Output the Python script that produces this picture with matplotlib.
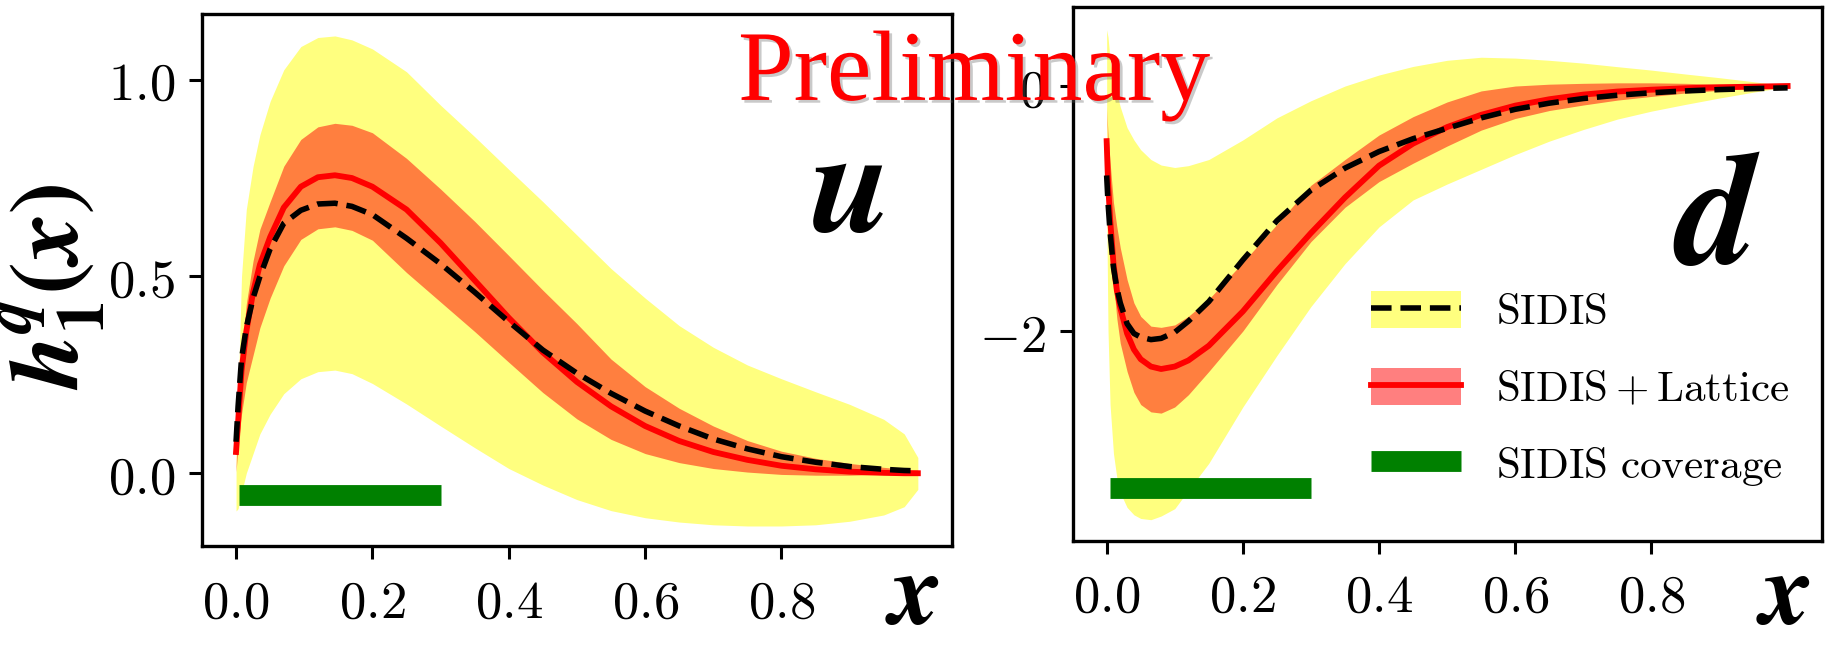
import matplotlib
matplotlib.use("Agg")
import matplotlib.pyplot as plt
import matplotlib.patheffects as pe
from matplotlib.patches import Patch
from matplotlib.lines import Line2D

plt.rcParams["mathtext.fontset"] = "cm"

# ---------------------------------------------------------------------------
#  u quark transversity (left panel)
# ---------------------------------------------------------------------------
x_u = [0.0, 0.003, 0.008, 0.015, 0.025, 0.035, 0.05, 0.07, 0.095, 0.12,
       0.145, 0.17, 0.2, 0.25, 0.3, 0.35, 0.4, 0.45, 0.5, 0.55,
       0.6, 0.65, 0.7, 0.75, 0.8, 0.85, 0.9, 0.95, 0.98, 1.0]

u_sidis_hi = [0.05, 0.2, 0.5, 0.67, 0.78, 0.86, 0.945, 1.025, 1.084, 1.107,
              1.111, 1.101, 1.078, 1.02, 0.935, 0.855, 0.772, 0.69, 0.605, 0.52,
              0.445, 0.375, 0.32, 0.275, 0.24, 0.207, 0.175, 0.137, 0.10, 0.04]
u_sidis_lo = [-0.096, -0.09, -0.05, 0.0, 0.05, 0.10, 0.15, 0.202, 0.24, 0.258,
              0.262, 0.253, 0.228, 0.176, 0.12, 0.065, 0.012, -0.03, -0.067, -0.095,
              -0.113, -0.124, -0.131, -0.134, -0.134, -0.131, -0.122, -0.106, -0.085, -0.041]
u_sidis = [0.08, 0.17, 0.29, 0.37, 0.445, 0.50, 0.57, 0.635, 0.668, 0.684,
           0.686, 0.678, 0.657, 0.597, 0.532, 0.46, 0.385, 0.313, 0.254, 0.203,
           0.158, 0.12, 0.087, 0.062, 0.042, 0.028, 0.017, 0.01, 0.007, 0.006]

u_latt_hi = [0.01, 0.17, 0.30, 0.43, 0.54, 0.62, 0.69, 0.78, 0.848, 0.880,
             0.889, 0.884, 0.865, 0.80, 0.722, 0.64, 0.553, 0.465, 0.38, 0.29,
             0.22, 0.165, 0.12, 0.083, 0.056, 0.038, 0.025, 0.015, 0.01, 0.008]
u_latt_lo = [0.004, 0.07, 0.15, 0.23, 0.30, 0.37, 0.445, 0.527, 0.594, 0.621,
             0.626, 0.617, 0.592, 0.51, 0.435, 0.36, 0.282, 0.205, 0.138, 0.086,
             0.05, 0.027, 0.012, 0.003, -0.003, -0.005, -0.005, -0.003, -0.001, 0.0]
u_latt = [0.054, 0.13, 0.26, 0.36, 0.46, 0.53, 0.60, 0.675, 0.728, 0.752,
          0.757, 0.75, 0.728, 0.67, 0.585, 0.49, 0.395, 0.307, 0.232, 0.17,
          0.12, 0.082, 0.054, 0.034, 0.019, 0.01, 0.004, 0.001, 0.0, 0.0]

# ---------------------------------------------------------------------------
#  d quark transversity (right panel)
# ---------------------------------------------------------------------------
x_d = [0.0, 0.002, 0.005, 0.01, 0.015, 0.02, 0.03, 0.04, 0.05, 0.065,
       0.08, 0.1, 0.12, 0.15, 0.2, 0.25, 0.3, 0.35, 0.4, 0.45,
       0.5, 0.55, 0.6, 0.65, 0.7, 0.75, 0.8, 0.85, 0.9, 0.95, 1.0]

d_sidis_hi = [0.46, 0.40, 0.22, 0.05, -0.06, -0.17, -0.34, -0.44, -0.52, -0.60,
              -0.645, -0.665, -0.65, -0.60, -0.44, -0.26, -0.12, 0.0, 0.09, 0.16,
              0.21, 0.235, 0.228, 0.21, 0.187, 0.158, 0.13, 0.098, 0.068, 0.035, 0.0]
d_sidis_lo = [-1.0, -2.0, -2.6, -3.0, -3.2, -3.32, -3.44, -3.5, -3.53, -3.54,
              -3.51, -3.45, -3.3, -3.08, -2.62, -2.2, -1.8, -1.45, -1.15, -0.93,
              -0.80, -0.68, -0.56, -0.45, -0.355, -0.27, -0.205, -0.15, -0.098, -0.05, -0.005]
d_sidis = [-0.73, -0.95, -1.19, -1.48, -1.65, -1.77, -1.94, -2.02, -2.05, -2.07,
           -2.06, -2.01, -1.92, -1.76, -1.42, -1.10, -0.85, -0.67, -0.535, -0.43,
           -0.345, -0.26, -0.19, -0.14, -0.102, -0.075, -0.055, -0.04, -0.029, -0.021, -0.015]

d_latt_hi = [-0.17, -0.40, -0.62, -0.95, -1.15, -1.32, -1.58, -1.77, -1.88, -1.96,
             -1.97, -1.95, -1.88, -1.74, -1.44, -1.13, -0.81, -0.60, -0.40, -0.25,
             -0.13, -0.04, 0.0, 0.015, 0.022, 0.026, 0.026, 0.022, 0.015, 0.008, 0.0]
d_latt_lo = [-0.17, -0.6, -1.15, -1.6, -1.9, -2.1, -2.33, -2.5, -2.6, -2.66,
             -2.67, -2.62, -2.52, -2.33, -2.0, -1.62, -1.27, -0.99, -0.78, -0.63,
             -0.49, -0.36, -0.265, -0.2, -0.155, -0.115, -0.085, -0.057, -0.035, -0.018, -0.005]
d_latt = [-0.45, -0.78, -1.08, -1.45, -1.67, -1.81, -2.02, -2.15, -2.23, -2.29,
          -2.31, -2.29, -2.24, -2.12, -1.84, -1.51, -1.20, -0.91, -0.65, -0.47,
          -0.335, -0.235, -0.16, -0.108, -0.07, -0.045, -0.03, -0.018, -0.01, -0.005, 0.0]

# SIDIS kinematic coverage in x, and the height the bar is drawn at
coverage_x = [0.005, 0.3]
coverage_y_u = -0.056
coverage_y_d = -3.28

x_ticks = [0.0, 0.2, 0.4, 0.6, 0.8]
x_ticklabels = ["$0.0$", "$0.2$", "$0.4$", "$0.6$", "$0.8$"]
u_yticks = [0.0, 0.5, 1.0]
u_yticklabels = ["$0.0$", "$0.5$", "$1.0$"]
d_yticks = [-2, 0]
d_yticklabels = ["$-2$", "$0$"]

legend_labels = [r"$\mathrm{SIDIS}$",
                 r"$\mathrm{SIDIS} + \mathrm{Lattice}$",
                 r"$\mathrm{SIDIS\ coverage}$"]


def draw_panel(ax, x, s_hi, s_lo, s_mid, l_hi, l_lo, l_mid, cov_y):
    ax.fill_between(x, s_lo, s_hi, color="yellow", alpha=0.5, lw=0)
    ax.fill_between(x, l_lo, l_hi, color="red", alpha=0.5, lw=0)
    ax.plot(x, l_mid, color="red", lw=4.2)
    ax.plot(x, s_mid, color="black", ls="--", lw=4.0)
    ax.plot(coverage_x, [cov_y, cov_y], color="green", lw=15,
            solid_capstyle="butt")

    ax.set_xlim(-0.05, 1.05)
    ax.set_xticks(x_ticks)
    ax.set_xticklabels(x_ticklabels)
    for sp in ax.spines.values():
        sp.set_linewidth(2.4)
    ax.tick_params(direction="out", length=9.5, width=2.2, labelsize=38)
    ax.tick_params(axis="x", pad=12)
    ax.tick_params(axis="y", pad=10)


fig = plt.figure(figsize=(18.31, 6.49), dpi=100)

ax_u = fig.add_axes([0.1103, 0.158, 0.4096, 0.820])
draw_panel(ax_u, x_u, u_sidis_hi, u_sidis_lo, u_sidis,
           u_latt_hi, u_latt_lo, u_latt, coverage_y_u)
ax_u.set_ylim(-0.186, 1.166)
ax_u.set_yticks(u_yticks)
ax_u.set_yticklabels(u_yticklabels)

ax_d = fig.add_axes([0.5858, 0.1664, 0.4091, 0.8228])
draw_panel(ax_d, x_d, d_sidis_hi, d_sidis_lo, d_sidis,
           d_latt_hi, d_latt_lo, d_latt, coverage_y_d)
ax_d.set_ylim(-3.714, 0.645)
ax_d.set_yticks(d_yticks)
ax_d.set_yticklabels(d_yticklabels)

# legend (lives in the d panel)
handles = [
    (Patch(facecolor="yellow", alpha=0.5, lw=0),
     Line2D([], [], color="black", ls="--", lw=4.0)),
    (Patch(facecolor="red", alpha=0.5, lw=0),
     Line2D([], [], color="red", lw=4.2)),
    Line2D([], [], color="green", lw=15, solid_capstyle="butt"),
]
ax_d.legend(handles, legend_labels, loc="upper left",
            bbox_to_anchor=(0.7488, 0.5516), bbox_transform=fig.transFigure,
            frameon=False, fontsize=31, handlelength=2.09, handleheight=0.95,
            handletextpad=0.81, labelspacing=0.8, borderpad=0, borderaxespad=0)

# big bold-italic labels
big = dict(math_fontfamily="stix", color="black")
fig.text(0.0284, 0.5578,
         r"$\mathbfit{h}_{\mathbf{1}}^{\mathbfit{q}}\mathbf{(}\mathbfit{x}\mathbf{)}$",
         rotation=90, fontsize=70, ha="center", va="center", **big)
fig.text(0.4626, 0.7057, r"$\mathbfit{u}$", fontsize=105,
         ha="center", va="center", **big)
fig.text(0.9378, 0.6632, r"$\mathbfit{d}$", fontsize=115,
         ha="center", va="center", **big)
fig.text(0.4985, 0.004, r"$\mathbfit{x}$", fontsize=74,
         ha="center", va="bottom", **big)
fig.text(0.9738, 0.004, r"$\mathbfit{x}$", fontsize=74,
         ha="center", va="bottom", **big)

fig.text(0.4031, 0.846, "Preliminary", fontsize=72, family="Liberation Serif",
         color="red", ha="left", va="baseline", zorder=10,
         path_effects=[pe.withSimplePatchShadow(offset=(2, -2),
                                                shadow_rgbFace="0.4",
                                                alpha=0.35)])

fig.savefig("out.png", dpi=100)
